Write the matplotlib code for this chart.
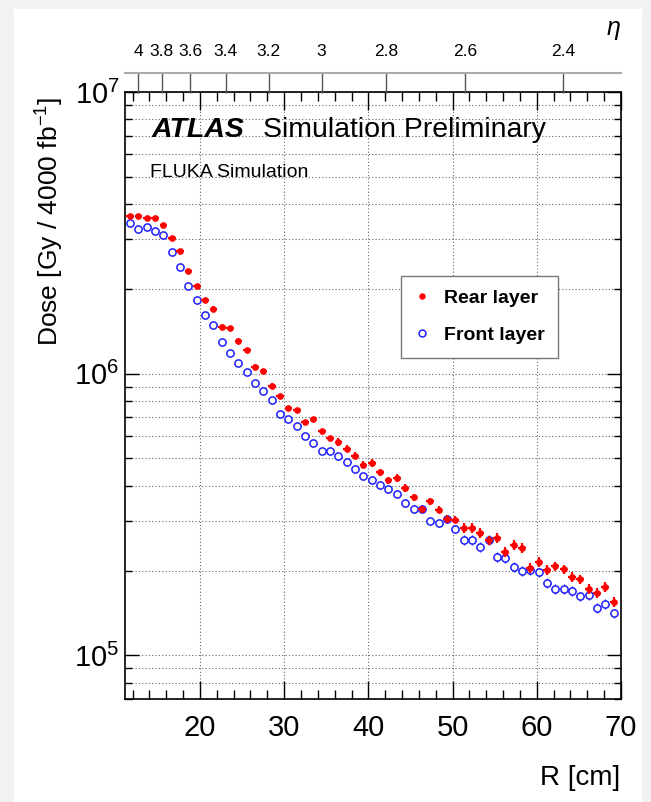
import numpy as np
import matplotlib
matplotlib.use('Agg')
import matplotlib.pyplot as plt
from matplotlib.lines import Line2D
from matplotlib.patches import Rectangle
from matplotlib.ticker import LogLocator, MultipleLocator, NullFormatter, NullLocator

plt.rcParams['font.family'] = ['Liberation Sans', 'DejaVu Sans']
plt.rcParams['mathtext.fontset'] = 'custom'
plt.rcParams['mathtext.rm'] = 'Liberation Sans'
plt.rcParams['mathtext.it'] = 'Liberation Sans:italic'

# bin centres in R [cm]
r_cm = [11.7, 12.69, 13.68, 14.67, 15.66, 16.65, 17.64, 18.63, 19.62, 20.61,
        21.6, 22.59, 23.58, 24.57, 25.56, 26.55, 27.54, 28.53, 29.52, 30.51,
        31.5, 32.49, 33.48, 34.47, 35.46, 36.45, 37.44, 38.43, 39.42, 40.41,
        41.4, 42.39, 43.38, 44.37, 45.36, 46.35, 47.34, 48.33, 49.32, 50.31,
        51.3, 52.29, 53.28, 54.27, 55.26, 56.25, 57.24, 58.23, 59.22, 60.21,
        61.2, 62.19, 63.18, 64.17, 65.16, 66.15, 67.14, 68.13, 69.12]

# dose [Gy / 4000 fb-1]
rear = [3.64e6, 3.64e6, 3.57e6, 3.57e6, 3.36e6, 3.03e6, 2.72e6, 2.32e6, 2.04e6, 1.83e6,
        1.70e6, 1.47e6, 1.45e6, 1.31e6, 1.21e6, 1.06e6, 1.02e6, 9.06e5, 8.30e5, 7.55e5,
        7.41e5, 6.72e5, 6.90e5, 6.24e5, 5.91e5, 5.72e5, 5.42e5, 5.12e5, 4.75e5, 4.82e5,
        4.46e5, 4.18e5, 4.26e5, 3.93e5, 3.64e5, 3.30e5, 3.52e5, 3.29e5, 3.05e5, 3.03e5,
        2.83e5, 2.83e5, 2.72e5, 2.56e5, 2.61e5, 2.33e5, 2.47e5, 2.41e5, 2.04e5, 2.14e5,
        2.01e5, 2.07e5, 2.02e5, 1.90e5, 1.86e5, 1.72e5, 1.67e5, 1.75e5, 1.55e5]
front = [3.44e6, 3.27e6, 3.33e6, 3.20e6, 3.10e6, 2.70e6, 2.39e6, 2.05e6, 1.83e6, 1.61e6,
         1.49e6, 1.30e6, 1.18e6, 1.09e6, 1.01e6, 9.27e5, 8.71e5, 8.05e5, 7.20e5, 6.90e5,
         6.54e5, 6.02e5, 5.68e5, 5.30e5, 5.30e5, 5.09e5, 4.84e5, 4.60e5, 4.32e5, 4.20e5,
         4.03e5, 3.89e5, 3.75e5, 3.48e5, 3.31e5, 3.32e5, 2.99e5, 2.94e5, 3.05e5, 2.81e5,
         2.57e5, 2.57e5, 2.42e5, 2.57e5, 2.24e5, 2.21e5, 2.06e5, 2.00e5, 2.01e5, 1.97e5,
         1.81e5, 1.72e5, 1.72e5, 1.69e5, 1.62e5, 1.64e5, 1.47e5, 1.52e5, 1.41e5]

# relative statistical error [%]
rear_err = [1.2] * 10 + [2.0] * 15 + [3.0] * 15 + [4.0] * 19
front_err = [1.2] * 10 + [2.0] * 15 + [3.0] * 15 + [4.0] * 19

eta_ticks = [4, 3.8, 3.6, 3.4, 3.2, 3, 2.8, 2.6, 2.4]
eta_labels = ['4', '3.8', '3.6', '3.4', '3.2', '3', '2.8', '2.6', '2.4']
z_cm = 345.0

W, H = 651, 802
fig = plt.figure(figsize=(W / 100, H / 100), dpi=100)
fig.patch.set_facecolor('#f2f2f2')
fig.patches.append(Rectangle((14 / W, 0), (641 - 14) / W, (H - 9) / H,
                             transform=fig.transFigure, color='white', zorder=-5))

ax = fig.add_axes([125 / W, 1 - 699 / H, (621 - 125) / W, (699 - 92) / H])

rear = np.array(rear)
front = np.array(front)
ax.errorbar(r_cm, front, xerr=0.45, yerr=front * np.array(front_err) / 100,
            fmt='o', color='#2020ff', mfc='white', ms=5.2, mew=1.1, elinewidth=1.0,
            capsize=0, zorder=3)
ax.errorbar(r_cm, rear, xerr=0.45, yerr=rear * np.array(rear_err) / 100,
            fmt='o', color='red', ms=3.8, elinewidth=1.6, capsize=0, zorder=4)

ax.set_yscale('log')
ax.set_xlim(11.1, 70)
ax.set_ylim(7e4, 1e7)

ax.xaxis.set_major_locator(MultipleLocator(10))
ax.xaxis.set_minor_locator(MultipleLocator(2))
ax.yaxis.set_major_locator(LogLocator(base=10, numticks=10))
ax.yaxis.set_minor_locator(LogLocator(base=10, subs=np.arange(2, 10), numticks=20))
ax.yaxis.set_minor_formatter(NullFormatter())

ax.grid(True, which='major', axis='x', color='#666666', lw=0.8, ls=(0, (1, 2)))
ax.grid(True, which='both', axis='y', color='#666666', lw=0.8, ls=(0, (1, 2)))

# eta axis on top
ax_top = ax.twiny()
ax_top.set_xlim(ax.get_xlim())
ax_top.set_xticks([z_cm / np.sinh(e) for e in eta_ticks])
ax_top.set_xticklabels(eta_labels)
ax_top.xaxis.set_minor_locator(NullLocator())
for side in ['bottom', 'left', 'right']:
    ax_top.spines[side].set_visible(False)
ax_top.spines['top'].set_position(('outward', 14))
ax_top.spines['top'].set_color('#aaaaaa')
ax_top.spines['top'].set_linewidth(1.5)
ax_top.tick_params(axis='x', direction='in', length=14.4, width=1, color='#555555',
                   labelsize=12.5, pad=10)

# ROOT style ticks on all four sides (after twiny, which resets them)
ax.tick_params(axis='x', which='major', direction='in', length=13, width=1,
               top=True, bottom=True, labeltop=False, labelbottom=True,
               labelsize=21, pad=11)
ax.tick_params(axis='x', which='minor', direction='in', length=6.5, width=1,
               top=True, bottom=True)
ax.tick_params(axis='y', which='major', direction='in', length=10, width=1,
               left=True, right=True, labelsize=21, pad=4)
ax.tick_params(axis='y', which='minor', direction='in', length=5, width=1,
               left=True, right=True)
for s in ax.spines.values():
    s.set_linewidth(1.2)

fig.text(613 / W, 1 - 30 / H, r'$\eta$', fontsize=18, ha='center', va='center')

fig.text(152 / W, 1 - 137 / H, 'ATLAS', fontsize=20.5, fontweight='bold',
         fontstyle='italic', va='baseline')
fig.text(263 / W, 1 - 137 / H, 'Simulation Preliminary', fontsize=20.5, va='baseline')
fig.text(150 / W, 1 - 177 / H, 'FLUKA Simulation', fontsize=14, va='baseline')

fig.text(620 / W, 1 - 785 / H, 'R [cm]', fontsize=20, ha='right', va='baseline')
fig.text(50 / W, 1 - 97 / H, r'Dose [Gy / 4000 fb$^{-1}$]', fontsize=19,
         rotation=90, ha='center', va='top')

handles = [Line2D([], [], marker='o', ls='none', color='red', ms=3.6),
           Line2D([], [], marker='o', ls='none', color='#2020ff', mfc='none', ms=5, mew=1.1)]
fig.legend(handles, ['Rear layer', 'Front layer'], loc='upper left',
           bbox_to_anchor=(401 / W, 1 - 276 / H), prop=dict(weight='bold', size=14),
           frameon=True, fancybox=False, edgecolor='#777777', framealpha=1,
           borderpad=0.7, labelspacing=1.0, handlelength=0.8, handletextpad=0.7,
           borderaxespad=0)

fig.savefig('out.png', dpi=100, facecolor=fig.get_facecolor())
